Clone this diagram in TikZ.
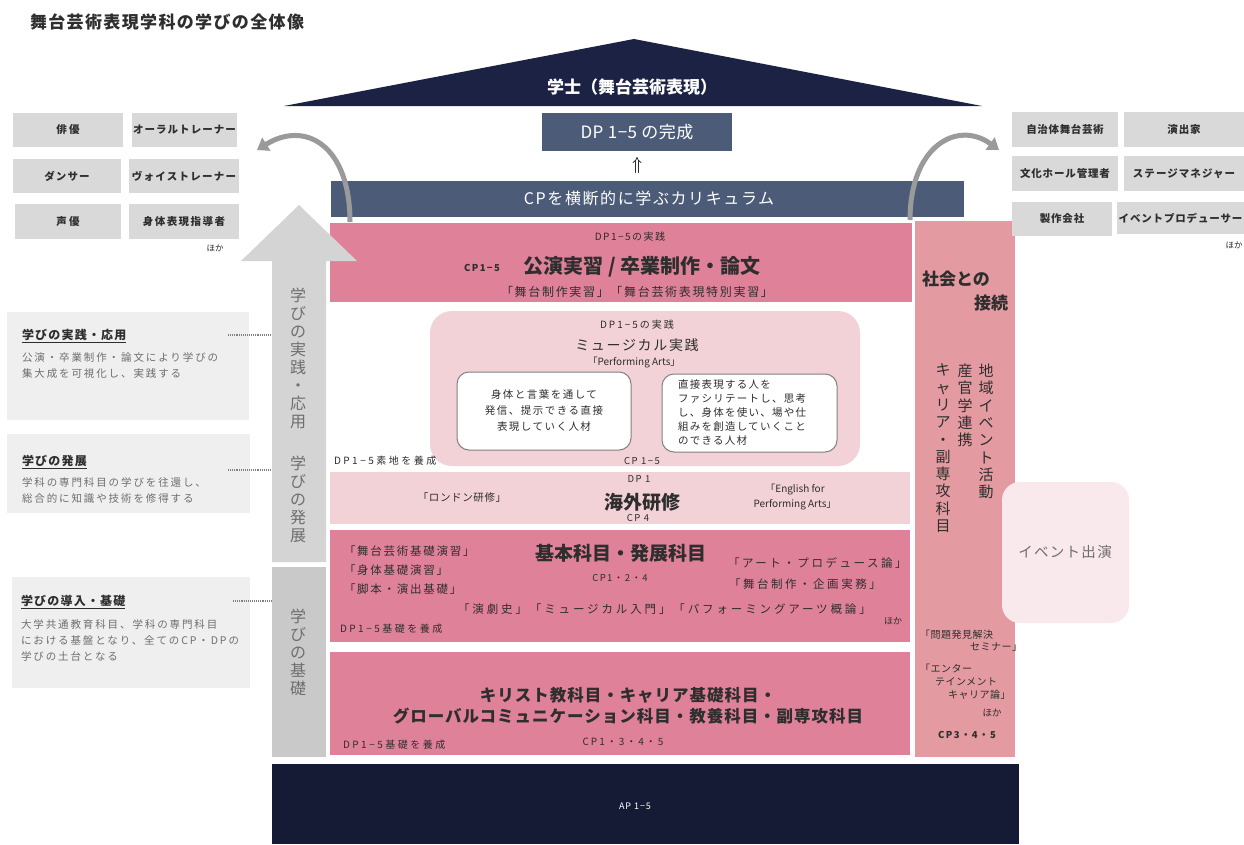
\documentclass[tikz,border=0pt]{standalone}
\usepackage{fontspec}
\setmainfont{Noto Sans CJK JP}
\usetikzlibrary{arrows.meta}
\definecolor{navy}{HTML}{1C2243}
\definecolor{navyb}{HTML}{151A35}
\definecolor{slate}{HTML}{4C5C78}
\definecolor{bandpink}{HTML}{E0819A}
\definecolor{lightpink}{HTML}{F2D2D6}
\definecolor{colpink}{HTML}{E39BA1}
\definecolor{eventpink}{HTML}{F9E9EC}
\definecolor{jobgray}{HTML}{D9D9D9}
\definecolor{descgray}{HTML}{EFEFEF}
\definecolor{arrowgray}{HTML}{D4D4D4}
\definecolor{arrowgrayb}{HTML}{C9C9C9}
\definecolor{curvegray}{HTML}{9A9A9A}
\definecolor{txt}{HTML}{2E2E2E}
\definecolor{softtxt}{HTML}{6E6E6E}
\newcommand{\fs}[2]{\fontsize{#1}{#2}\selectfont}
\newcommand{\ls}[1]{\addfontfeature{LetterSpace=#1}}
\begin{document}
\begin{tikzpicture}[x=1pt,y=-1pt,
  every node/.style={inner sep=0pt, outer sep=0pt, text=txt},
  rbox/.style={anchor=north west, draw=none},
  job/.style={rbox, fill=jobgray, font=\bfseries\fs{10.5}{12}},
  desc/.style={rbox, fill=descgray},
  dtitle/.style={anchor=west, font=\bfseries\fs{12}{14}\ls{10}},
  dbody/.style={anchor=north west, align=left, font=\fs{10.5}{15.8}\ls{18}, text=softtxt},
  band/.style={rbox, fill=bandpink},
  small/.style={font=\fs{9.5}{11}\ls{15}},
  dpnote/.style={anchor=west, font=\fs{10}{12}\ls{25}},
  mid/.style={font=\fs{12}{14}\ls{14}},
  vtxt/.style={align=center, anchor=north, font=\fs{15}{17.3}},
  vgray/.style={align=center, anchor=north, font=\fs{16}{18}, text=softtxt},
  curve/.style={draw=curvegray, line width=5pt, -{Triangle[width=15pt,length=11pt]}},
  dots/.style={draw=gray, densely dotted, line width=1.1pt}
]
\useasboundingbox (0,0) rectangle (1244,844);
\fill[white] (0,0) rectangle (1244,844);

% title
\node[anchor=west, font=\bfseries\fs{17}{19}\ls{8}] (title) at (30,22) {舞台芸術表現学科の学びの全体像};

% roof
\fill[navy] (284,106) -- (634,39) -- (982,106) -- cycle;
\node[font=\bfseries\fs{17}{19}, text=white] (gakushi) at (632,87) {学士（舞台芸術表現）};

% DP box and CP bar
\node[rbox, fill=slate, minimum width=190, minimum height=38] (dp) at (542,113) {};
\node[font=\fs{17}{19}\ls{3}, text=white] (dptxt) at (dp.center) {DP 1−5 の完成};
\node[rbox, fill=slate, minimum width=633, minimum height=36] (cpbar) at (331,181) {};
\node[font=\fs{16}{18}\ls{10}, text=white] (cptxt) at (649,198) {CPを横断的に学ぶカリキュラム};
\coordinate (upS) at (637,173);
\coordinate (upE) at (637,157);
\draw[double, double distance=2.2pt, line width=0.8pt, draw=txt, -{Implies}] (upS) -- (upE);

% bands
\node[band, minimum width=582, minimum height=79] (b1) at (330,223) {};
\node[rbox, fill=lightpink, minimum width=430, minimum height=155, rounded corners=22pt] (mus) at (430,311) {};
\node[rbox, fill=lightpink, minimum width=580, minimum height=52] (b2) at (330,472) {};
\node[band, minimum width=580, minimum height=112] (b3) at (330,530) {};
\node[band, minimum width=580, minimum height=103] (b4) at (330,652) {};
\node[rbox, fill=navyb, minimum width=747, minimum height=80] (ap) at (272,764) {};
\node[font=\fs{9}{11}\ls{10}, text=white] (aptxt) at (635,806) {AP 1−5};

% right column
\node[rbox, fill=colpink, minimum width=100, minimum height=536] (col) at (915,221) {};
\node[rbox, fill=eventpink, minimum width=127, minimum height=141, rounded corners=18pt] (ev) at (1002,482) {};
\node[font=\fs{14.5}{16}\ls{9}, text=softtxt] (evtxt) at (1065,552) {イベント出演};

% band 1 texts
\node[font=\fs{10}{12}\ls{15}] (b1dp) at (630,237) {DP1−5の実践};
\node[font=\bfseries\fs{9.5}{11}\ls{15}] (b1cp) at (482,268) {CP1−5};
\node[font=\bfseries\fs{20}{22}] (b1t) at (642,267) {公演実習 / 卒業制作・論文};
\node[mid] (b1s) at (637,292) {「舞台制作実習」「舞台芸術表現特別実習」};

% musical box
\node[font=\fs{10}{12}\ls{20}] (mdp) at (637,325) {DP1−5の実践};
\node[font=\fs{14}{16}\ls{12}] (mt) at (637,345) {ミュージカル実践};
\node[font=\fs{10}{12}] (mpa) at (634,363) {「Performing Arts」};
\node[rbox, fill=white, draw=gray, line width=1pt, minimum width=174, minimum height=78, rounded corners=12pt] (wl) at (457,372) {};
\node[align=center, font=\fs{10.5}{16}\ls{14}] (wltxt) at (544,411) {身体と言葉を通して\\発信、提示できる直接\\表現していく人材};
\node[rbox, fill=white, draw=gray, line width=1pt, minimum width=175, minimum height=78, rounded corners=12pt] (wr) at (662,374) {};
\node[anchor=north west, align=left, font=\fs{10.5}{13.8}\ls{12}] (wrtxt) at (678,380) {直接表現する人を\\ファシリテートし、思考\\し、身体を使い、場や仕\\組みを創造していくこと\\のできる人材};
\node[dpnote] (sochi) at (334,461) {DP1−5素地を養成};
\node[small] (cp15) at (642,461) {CP 1−5};

% band 2 texts
\node[small] (b2dp) at (639,479) {DP 1};
\node[font=\bfseries\fs{19}{21}] (b2t) at (642,502) {海外研修};
\node[small] (b2cp) at (638,518) {CP 4};
\node[font=\fs{10.5}{12}\ls{6}] (london) at (462,497) {「ロンドン研修」};
\node[align=center, font=\fs{10}{15}] (efpa) at (795,497) {「English for\\Performing Arts」};

% band 3 texts
\node[anchor=north west, align=left, font=\fs{11.5}{19}\ls{15}] (b3l) at (344,546) {「舞台芸術基礎演習」\\「身体基礎演習」\\「脚本・演出基礎」};
\node[font=\bfseries\fs{19}{21}] (b3t) at (621,553) {基本科目・発展科目};
\node[small] (b3cp) at (620,578) {CP1・2・4};
\node[anchor=west, font=\fs{11.5}{13}\ls{22}] (art) at (728,563) {「アート・プロデュース論」};
\node[anchor=west, font=\fs{11.5}{13}\ls{22}] (butai) at (729,584) {「舞台制作・企画実務」};
\node[anchor=west, font=\fs{11.5}{13}\ls{25}] (b3m) at (458,609) {「演劇史」「ミュージカル入門」「パフォーミングアーツ概論」};
\node[font=\fs{9}{11}] (b3h) at (893,621) {ほか};
\node[dpnote] (b3dp) at (340,629) {DP1−5基礎を養成};

% band 4 texts
\node[align=center, font=\bfseries\fs{16.5}{21}\ls{6}] (b4t) at (628,706) {キリスト教科目・キャリア基礎科目・\\グローバルコミュニケーション科目・教養科目・副専攻科目};
\node[dpnote] (b4dp) at (343,745) {DP1−5基礎を養成};
\node[font=\fs{10}{12}\ls{20}] (b4cp) at (623,742) {CP1・3・4・5};

% right column texts
\node[anchor=west, font=\bfseries\fs{17}{19}] (shakai) at (922,279) {社会との};
\node[anchor=east, font=\bfseries\fs{17}{19}] (setsu) at (1008,303) {接続};
\node[vtxt] (v1) at (986,364) {地\\域\\イ\\ベ\\ン\\ト\\活\\動};
\node[vtxt] (v2) at (965,364) {産\\官\\学\\連\\携};
\node[vtxt] (v3) at (943,364) {キ\\ャ\\リ\\ア\\・\\副\\専\\攻\\科\\目};
\node[anchor=north west, align=left, font=\fs{10}{12.5}\ls{5}] (sem) at (920,630) {「問題発見解決\\\hspace*{5em}セミナー」};
\node[anchor=north west, align=left, font=\fs{10}{13}\ls{5}] (ent) at (920,664) {「エンター\\\hspace*{1.5em}テインメント\\\hspace*{2.8em}キャリア論」};
\node[font=\fs{9.5}{11}] (rhoka) at (992,713) {ほか};
\node[font=\bfseries\fs{9.5}{11}\ls{15}] (rcp) at (967,735) {CP3・4・5};

% left arrow
\fill[arrowgray] (272,562) -- (272,261) -- (241,261) -- (299,205) -- (357,261) -- (326,261) -- (326,562) -- cycle;
\node[rbox, fill=arrowgrayb, minimum width=54, minimum height=190] (base) at (272,567) {};
\node[vgray] (a1) at (298,288) {学\\び\\の\\実\\践\\・\\応\\用};
\node[vgray] (a2) at (298,456) {学\\び\\の\\発\\展};
\node[vgray] (a3) at (298,609) {学\\び\\の\\基\\礎};

% curved arrows
\coordinate (lcs) at (350,222);
\coordinate (lce) at (257,150);
\draw[curve] (lcs) .. controls (350,145) and (305,120) .. (lce);
\coordinate (rcs) at (910,220);
\coordinate (rce) at (999,150);
\draw[curve] (rcs) .. controls (910,145) and (958,120) .. (rce);

% left jobs
\node[job, minimum width=110, minimum height=34] (jA) at (13,113) {\ls{20}俳優};
\node[job, minimum width=105, minimum height=34] (jB) at (132,113) {\ls{10}オーラルトレーナー};
\node[job, minimum width=108, minimum height=34] (jC) at (13,159) {\ls{10}ダンサー};
\node[job, minimum width=110, minimum height=34] (jD) at (129,159) {\ls{12}ヴォイストレーナー};
\node[job, minimum width=106, minimum height=35] (jE) at (15,204) {\ls{20}声優};
\node[job, minimum width=110, minimum height=35] (jF) at (129,204) {\ls{14}身体表現指導者};
\node[font=\fs{8.5}{10}] (lhoka) at (215,248) {ほか};

% right jobs
\node[job, minimum width=106, minimum height=35] (kA) at (1012,112) {\ls{6}自治体舞台芸術};
\node[job, minimum width=120, minimum height=35] (kB) at (1124,112) {\ls{8}演出家};
\node[job, minimum width=106, minimum height=35] (kC) at (1012,156) {\ls{8}文化ホール管理者};
\node[job, minimum width=120, minimum height=35] (kD) at (1124,156) {\ls{10}ステージマネジャー};
\node[job, minimum width=100, minimum height=34] (kE) at (1012,202) {\ls{8}製作会社};
\node[job, minimum width=127, minimum height=32] (kF) at (1117,202) {\ls{8}イベントプロデューサー};
\node[font=\fs{8.5}{10}] (rhoka2) at (1234,245) {ほか};

% left descriptions
\node[desc, minimum width=242, minimum height=108] (d1) at (7,312) {};
\node[dtitle] (d1t) at (22,336) {\underline{学びの実践・応用}};
\node[dbody] (d1b) at (22,353) {公演・卒業制作・論文により学びの\\集大成を可視化し、実践する};
\node[desc, minimum width=243, minimum height=79] (d2) at (7,434) {};
\node[dtitle] (d2t) at (22,462) {\underline{学びの発展}};
\node[dbody] (d2b) at (22,478) {学科の専門科目の学びを往還し、\\総合的に知識や技術を修得する};
\node[desc, minimum width=238, minimum height=111] (d3) at (12,577) {};
\node[dtitle] (d3t) at (21,602) {\underline{学びの導入・基礎}};
\node[dbody] (d3b) at (21,620) {大学共通教育科目、学科の専門科目\\における基盤となり、全てのCP・DPの\\学びの土台となる};

% dotted leaders
\coordinate (l1a) at (228,335); \coordinate (l1b) at (272,335);
\coordinate (l2a) at (228,470); \coordinate (l2b) at (272,470);
\coordinate (l3a) at (233,601); \coordinate (l3b) at (272,601);
\draw[dots] (l1a) -- (l1b);
\draw[dots] (l2a) -- (l2b);
\draw[dots] (l3a) -- (l3b);
\end{tikzpicture}
\end{document}
